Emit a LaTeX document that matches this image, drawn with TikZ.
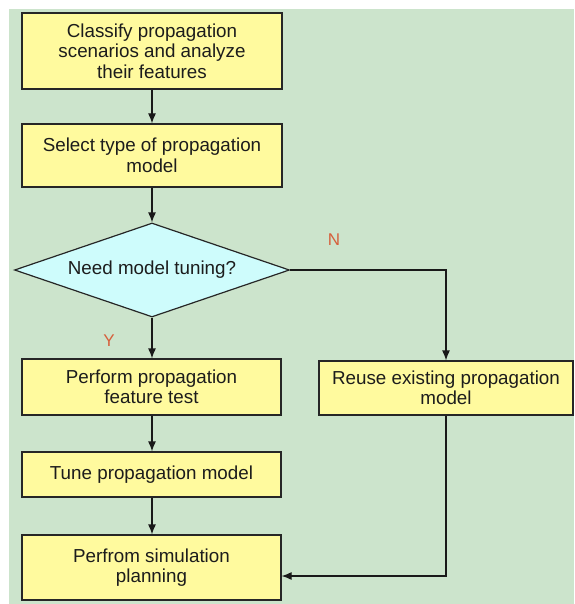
\documentclass[tikz,border=0pt]{standalone}
\usepackage{fontspec}
\setmainfont{Liberation Sans}
\usetikzlibrary{shapes.geometric,arrows.meta}
\definecolor{bggreen}{RGB}{204,228,204}
\definecolor{boxyellow}{RGB}{255,250,158}
\definecolor{diacyan}{RGB}{206,252,252}
\definecolor{txtgray}{RGB}{28,28,28}
\definecolor{lblred}{RGB}{214,96,60}
\begin{document}
\begin{tikzpicture}[x=1pt,y=-1pt,
  every node/.style={font=\fontsize{18.8}{20.5}\selectfont, text=txtgray},
  procbox/.style={draw=black!85, line width=1.2pt, fill=boxyellow, align=center, inner sep=0pt},
  decbox/.style={draw=black!85, line width=1.2pt, fill=diacyan, shape=diamond, aspect=2.9, inner sep=0pt, minimum width=275pt, minimum height=94pt},
  conn/.style={draw=black!90, line width=1.2pt},
  arr/.style={conn, -{Latex[length=10pt,width=8pt]}},
  lbl/.style={text=lblred, font=\fontsize{17}{17}\selectfont}]
\useasboundingbox (0,0) rectangle (574,604);
\fill[white] (0,0) rectangle (574,604);
\fill[bggreen] (9,9) rectangle (574,604);

\node[procbox, minimum width=260pt, minimum height=76pt] (b1) at (152,51)
  {Classify propagation\\scenarios and analyze\\their features};
\node[procbox, minimum width=260pt, minimum height=63pt] (b2) at (152,155.5)
  {Select type of propagation\\model};
\node[decbox] (d) at (152,270) {Need model tuning?};
\node[procbox, minimum width=259pt, minimum height=56pt] (b3) at (151.5,387)
  {Perform propagation\\feature test};
\node[procbox, minimum width=254pt, minimum height=54pt] (r) at (446,388)
  {Reuse existing propagation\\model};
\node[procbox, minimum width=259pt, minimum height=45pt] (b4) at (151.5,474.5)
  {Tune propagation model};
\node[procbox, minimum width=259pt, minimum height=65pt] (b5) at (151.5,567.5)
  {Perfrom simulation\\planning};

\node[lbl] (n) at (334,240) {N};
\node[lbl] (y) at (109,341) {Y};

\draw[arr] (b1.south -| d.north) -- (b2.north -| d.north);
\draw[arr] (b2.south -| d.north) -- (d.north);
\draw[arr] (d.south) -- (b3.north -| d.south);
\draw[arr] (d.east) -| (r.north);
\draw[arr] (r.south) |- ([yshift=-8.5pt]b5.east);
\draw[arr] (b3.south -| d.south) -- (b4.north -| d.south);
\draw[arr] (b4.south -| d.south) -- (b5.north -| d.south);
\end{tikzpicture}
\end{document}
